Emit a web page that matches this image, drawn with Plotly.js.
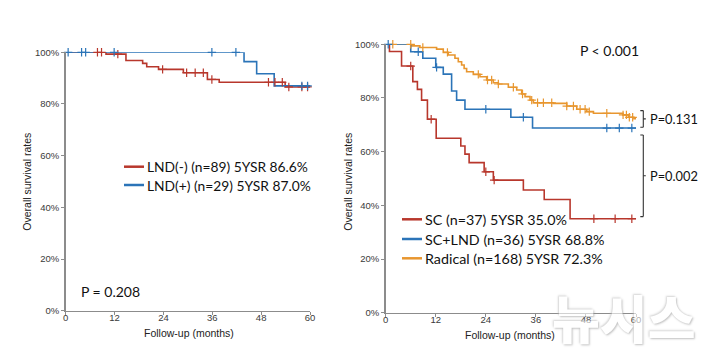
<!DOCTYPE html>
<html>
<head>
<meta charset="utf-8">
<script src="https://cdn.plot.ly/plotly-3.0.1.min.js"></script>
<style>
  html, body { margin: 0; padding: 0; background: #fff; }
  #chart { width: 720px; height: 361px; }
</style>
</head>
<body>
<div id="chart"></div>
<script>
// ---- Kaplan-Meier step curves: months of follow-up vs. survival (%) ----
const monthTicks = [0, 12, 24, 36, 48, 60];
const pctTicks = [0, 20, 40, 60, 80, 100];
const pctLabels = ['0%', '20%', '40%', '60%', '80%', '100%'];

// Panel A: lymph node dissection
const lndNegTime = [0, 9.9, 14.8, 18.9, 19.9, 22.8, 28.9, 34.8, 37.7, 53.9, 60.6];
const lndNegSurv = [100, 99.3, 96.8, 95.7, 94.4, 93.4, 92.1, 89.5, 88.4, 86.6, 86.6];
const lndNegCens = [7.8, 8.8, 12.8, 23.8, 29.7, 31.8, 33.8, 35.9, 49.8, 51.4, 53.2, 54.8, 58.0, 59.4, 60.5];

const lndPosTime = [0, 43.8, 46.9, 51.2, 60.6];
const lndPosSurv = [100, 96.4, 91.7, 87.0, 87.0];
const lndPosCens = [0.6, 3.9, 4.9, 11.9, 35.9, 41.8, 58.0, 59.4, 60.5];

// Panel B: surgical procedure
const scTime = [0, 0.9, 3.8, 6.5, 7.6, 8.6, 10.0, 12.1, 18.0, 19.0, 20.0, 23.6, 25.8, 33.0, 38.0, 44.2, 61.0];
const scSurv = [100, 97.3, 91.9, 86.1, 83.2, 79.2, 72.1, 65.0, 62.1, 59.1, 55.9, 52.5, 49.4, 45.7, 42.2, 35.0, 35.0];
const scCens = [6.0, 10.9, 24.0, 26.0, 49.9, 55.0, 59.0];

const sclndTime = [0, 6.0, 8.9, 12.0, 13.8, 15.8, 17.0, 19.0, 30.0, 35.2, 61.0];
const sclndSurv = [100, 97.2, 94.8, 91.4, 88.9, 82.6, 79.2, 75.8, 72.8, 68.8, 68.8];
const sclndCens = [0.6, 7.8, 12.2, 24.0, 33.0, 53.0, 56.0, 59.0];

const radTime = [0, 6.2, 8.2, 12.2, 13.8, 15.0, 16.6, 17.4, 18.2, 18.8, 19.4, 21.0, 22.6, 24.2, 25.8, 27.0,
                 29.4, 31.4, 32.6, 33.4, 34.6, 35.4, 40.2, 43.4, 45.8, 48.2, 49.8, 56.9, 58.2, 59.5, 61.0];
const radSurv = [100, 99.4, 98.8, 98.2, 97.0, 96.0, 94.8, 93.5, 92.3, 91.0, 89.8, 88.8, 87.9, 86.7, 85.7, 85.2,
                 84.0, 83.0, 81.5, 80.5, 79.2, 78.2, 78.0, 77.0, 75.8, 74.9, 74.3, 73.7, 72.8, 72.3, 72.3];
const radCens = [1.7, 6.0, 8.9, 14.8, 22.2, 24.4, 25.4, 27.0, 30.6, 32.8, 35.0, 36.4, 37.8, 39.8,
                 43.4, 45.0, 46.6, 47.8, 48.8, 53.0, 56.9, 57.7, 58.4, 59.2];

const seriesNames = {
  lndNeg: 'LND(-) (n=89) 5YSR 86.6%',
  lndPos: 'LND(+) (n=29) 5YSR 87.0%',
  sc: 'SC (n=37) 5YSR 35.0%',
  sclnd: 'SC+LND (n=36) 5YSR 68.8%',
  rad: 'Radical (n=168) 5YSR 72.3%'
};
const pLeft = 'P = 0.208';
const pRight = 'P < 0.001';
const pPairs = [
  { text: 'P=0.131', top: 75.3, bottom: 69.1 },
  { text: 'P=0.002', top: 66.2, bottom: 35.8 }
];

const RED = '#b8372c', BLUE = '#2b74b8', ORANGE = '#e8962f';
const TEXT = "Lato, 'Open Sans', sans-serif";
const AXFONT = "'Liberation Sans', Arial, sans-serif";

// value of a step curve at time t
function stepAt(times, surv, t) {
  let v = surv[0];
  for (let i = 0; i < times.length; i++) { if (times[i] <= t) v = surv[i]; }
  return v;
}

function curve(times, surv, color, xa, ya, name) {
  return {
    x: times, y: surv, xaxis: xa, yaxis: ya, name: name,
    type: 'scatter', mode: 'lines', line: { shape: 'hv', color: color, width: 1.6 },
    cliponaxis: false, showlegend: false, hoverinfo: 'skip'
  };
}
function censors(times, surv, cens, color, xa, ya) {
  return {
    x: cens, y: cens.map(t => stepAt(times, surv, t)), xaxis: xa, yaxis: ya,
    type: 'scatter', mode: 'markers',
    marker: { symbol: 'cross-thin', size: 6, color: color, line: { color: color, width: 1.2 } },
    cliponaxis: false, showlegend: false, hoverinfo: 'skip'
  };
}

const traces = [
  curve(lndNegTime, lndNegSurv, RED, 'x', 'y', seriesNames.lndNeg),
  curve(lndPosTime, lndPosSurv, BLUE, 'x', 'y', seriesNames.lndPos),
  censors(lndNegTime, lndNegSurv, lndNegCens, RED, 'x', 'y'),
  censors(lndPosTime, lndPosSurv, lndPosCens, BLUE, 'x', 'y'),
  curve(radTime, radSurv, ORANGE, 'x2', 'y2', seriesNames.rad),
  curve(sclndTime, sclndSurv, BLUE, 'x2', 'y2', seriesNames.sclnd),
  curve(scTime, scSurv, RED, 'x2', 'y2', seriesNames.sc),
  censors(radTime, radSurv, radCens, ORANGE, 'x2', 'y2'),
  censors(sclndTime, sclndSurv, sclndCens, BLUE, 'x2', 'y2'),
  censors(scTime, scSurv, scCens, RED, 'x2', 'y2')
];

function xAxis(domain, anchor) {
  return {
    domain: domain, anchor: anchor, range: [0, 60], tickvals: monthTicks,
    showline: true, linecolor: '#8c8c8c', linewidth: 1.5,
    ticks: 'outside', ticklen: 3, tickwidth: 1, tickcolor: '#8c8c8c', ticklabelstandoff: -6,
    tickfont: { family: AXFONT, size: 9.5, color: '#3a3a3a' },
    showgrid: false, zeroline: false, fixedrange: true
  };
}
function yAxis(domain, anchor) {
  return {
    domain: domain, anchor: anchor, range: [0, 100], tickvals: pctTicks, ticktext: pctLabels,
    showline: true, linecolor: '#8c8c8c', linewidth: 1.5,
    ticks: 'outside', ticklen: 3, tickwidth: 1, tickcolor: '#8c8c8c',
    tickfont: { family: AXFONT, size: 9.5, color: '#3a3a3a' },
    showgrid: false, zeroline: false, fixedrange: true
  };
}

// legend rows drawn as a short coloured line followed by text
const W = 720, H = 361;
const px = v => v / W, py = v => 1 - v / H;
const legendRows = [
  { name: seriesNames.lndNeg, color: RED, x0: 124, y: 166.7, size: 13.8 },
  { name: seriesNames.lndPos, color: BLUE, x0: 124, y: 185, size: 13.8 },
  { name: seriesNames.sc, color: RED, x0: 402, y: 219.3, size: 14.3 },
  { name: seriesNames.sclnd, color: BLUE, x0: 402, y: 239, size: 14.3 },
  { name: seriesNames.rad, color: ORANGE, x0: 402, y: 258.3, size: 14.3 }
];

const shapes = [];
const annotations = [];
legendRows.forEach(r => {
  shapes.push({ type: 'line', xref: 'paper', yref: 'paper', x0: px(r.x0), x1: px(r.x0 + 20),
                y0: py(r.y), y1: py(r.y), line: { color: r.color, width: 2.5 } });
  annotations.push({ xref: 'paper', yref: 'paper', x: px(r.x0 + 20.5), y: py(r.y), xanchor: 'left',
                     yanchor: 'middle', showarrow: false, text: r.name,
                     font: { family: TEXT, size: r.size, color: '#111' } });
});

// brackets comparing the end points of neighbouring curves
const bx = 643.3;
pPairs.forEach(p => {
  const mid = (p.top + p.bottom) / 2;
  shapes.push({ type: 'line', xref: 'paper', yref: 'y2', x0: px(bx), x1: px(bx), y0: p.top, y1: p.bottom,
                line: { color: '#333', width: 1.1 } });
  shapes.push({ type: 'line', xref: 'paper', yref: 'y2', x0: px(bx - 3), x1: px(bx), y0: p.top, y1: p.top,
                line: { color: '#333', width: 1.1 } });
  shapes.push({ type: 'line', xref: 'paper', yref: 'y2', x0: px(bx - 3), x1: px(bx), y0: p.bottom, y1: p.bottom,
                line: { color: '#333', width: 1.1 } });
  shapes.push({ type: 'line', xref: 'paper', yref: 'y2', x0: px(bx), x1: px(bx + 2.5), y0: mid, y1: mid,
                line: { color: '#333', width: 1.1 } });
  annotations.push({ xref: 'paper', yref: 'y2', x: px(648), y: mid, xanchor: 'left', yanchor: 'middle',
                     showarrow: false, text: p.text,
                     font: { family: TEXT, size: 12.8, color: '#111' } });
});

annotations.push(
  // agency mark, faint white with a soft grey edge, drawn first so labels stay on top
  { xref: 'paper', yref: 'paper', x: px(624), y: py(316), xanchor: 'center', yanchor: 'middle',
    showarrow: false, text: '뉴시스', opacity: 0.6,
    font: { family: "'Noto Sans CJK KR', sans-serif", size: 52, weight: 900, color: '#ffffff',
            shadow: '1px 1px 2px #9a9a9a, -1px -1px 2px #bdbdbd' } },
  { xref: 'paper', yref: 'paper', x: px(79), y: py(291.7), xanchor: 'left', yanchor: 'middle',
    showarrow: false, text: pLeft, font: { family: TEXT, size: 14, color: '#111' } },
  { xref: 'paper', yref: 'paper', x: px(578), y: py(50.7), xanchor: 'left', yanchor: 'middle',
    showarrow: false, text: pRight, font: { family: TEXT, size: 14, color: '#111' } },
  { xref: 'paper', yref: 'paper', x: px(27), y: py(181.7), textangle: -90, xanchor: 'center', yanchor: 'middle',
    showarrow: false, text: 'Overall survival rates', font: { family: AXFONT, size: 10.5, color: '#222' } },
  { xref: 'paper', yref: 'paper', x: px(348), y: py(181.7), textangle: -90, xanchor: 'center', yanchor: 'middle',
    showarrow: false, text: 'Overall survival rates', font: { family: AXFONT, size: 10.5, color: '#222' } },
  { xref: 'paper', yref: 'paper', x: px(189), y: py(333), xanchor: 'center', yanchor: 'middle',
    showarrow: false, text: 'Follow-up (months)', font: { family: AXFONT, size: 10.5, color: '#222' } },
  { xref: 'paper', yref: 'paper', x: px(510), y: py(335), xanchor: 'center', yanchor: 'middle',
    showarrow: false, text: 'Follow-up (months)', font: { family: AXFONT, size: 10.5, color: '#222' } }
);

const layout = {
  width: W, height: H, margin: { l: 0, r: 0, t: 0, b: 0 },
  paper_bgcolor: '#ffffff', plot_bgcolor: 'rgba(0,0,0,0)',
  showlegend: false,
  xaxis: xAxis([65.7 / W, 310 / W], 'y'),
  yaxis: yAxis([1 - 310.7 / H, 1 - 52.3 / H], 'x'),
  xaxis2: xAxis([385.7 / W, 636 / W], 'y2'),
  yaxis2: yAxis([1 - 312.7 / H, 1 - 44.3 / H], 'x2'),
  shapes: shapes, annotations: annotations
};

Plotly.newPlot('chart', traces, layout, { staticPlot: true, displayModeBar: false });
</script>
</body>
</html>
